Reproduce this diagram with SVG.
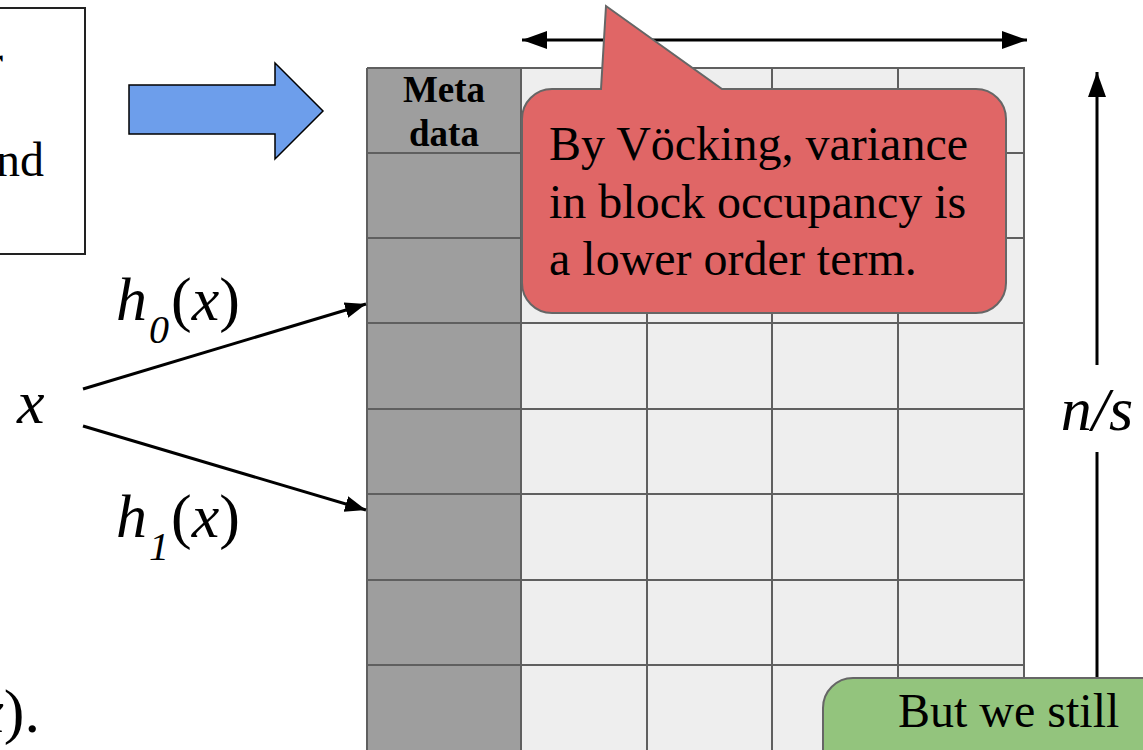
<svg xmlns="http://www.w3.org/2000/svg" width="1143" height="750" viewBox="0 0 1143 750">
  <style>
    .serif { font-family: "Liberation Serif", "Times New Roman", serif; fill: #000; }
    .body { font-size: 48px; }
    .math { font-size: 62px; font-style: italic; }
    .sub { font-size: 40px; font-style: italic; }
    .meta { font-size: 37px; font-weight: bold; }
    .cell { fill: #eeeeee; }
    .gridline { stroke: #5f5f5f; stroke-width: 2; fill: none; }
    .conn { stroke: #000; stroke-width: 3; fill: none; }
  </style>
  <defs>
    <marker id="head" markerUnits="userSpaceOnUse" markerWidth="26" markerHeight="20" refX="25" refY="9" orient="auto-start-reverse">
      <path d="M0,0 L25,9 L0,18 z" fill="#000"/>
    </marker>
    <marker id="headSmall" markerUnits="userSpaceOnUse" markerWidth="22" markerHeight="18" refX="21" refY="8" orient="auto">
      <path d="M0,0 L21,8 L0,16 z" fill="#000"/>
    </marker>
  </defs>

  <rect width="1143" height="750" fill="#fff"/>

  <!-- text box on the left, mostly off the edge -->
  <g id="text-box">
    <rect x="-5" y="8" width="90" height="246" fill="#fff" stroke="#222" stroke-width="2"/>
    <text class="serif body" x="3" y="78" text-anchor="end">r</text>
    <text class="serif body" x="44" y="176" text-anchor="end">nd</text>
  </g>

  <!-- block arrow -->
  <g id="block-arrow">
    <path d="M129,85 H275 V63 L323,111 L275,159 V134 H129 Z" fill="#6d9eeb" stroke="#000" stroke-width="1.5" stroke-linejoin="miter"/>
  </g>

  <!-- bottom-left formula fragment -->
  <g id="formula-tail">
    <text class="serif" x="40" y="732" text-anchor="end" font-size="62"><tspan font-style="italic">x</tspan>).</text>
  </g>

  <!-- key x -->
  <g id="key-x">
    <text class="serif math" x="17" y="423">x</text>
  </g>

  <!-- hash labels -->
  <g id="label-h0">
    <text class="serif math" x="116" y="320">h<tspan class="sub" dx="2" dy="23">0</tspan><tspan dx="2" dy="-23" font-style="normal">(</tspan>x<tspan font-style="normal">)</tspan></text>
  </g>
  <g id="label-h1">
    <text class="serif math" x="116" y="537">h<tspan class="sub" dx="2" dy="23">1</tspan><tspan dx="2" dy="-23" font-style="normal">(</tspan>x<tspan font-style="normal">)</tspan></text>
  </g>

  <!-- table of blocks -->
  <g id="block-table">
    <rect x="367" y="68" width="154" height="690" fill="#9e9e9e"/>
    <rect class="cell" x="521" y="68" width="503" height="690"/>
    <path class="gridline" d="M367,68 H1024 V758 M367,68 V758 M521,68 V758 M647,68 V758 M772,68 V758 M898,68 V758
      M367,153 H1024 M367,238 H1024 M367,323 H1024 M367,409 H1024 M367,494 H1024 M367,580 H1024 M367,665 H1024"/>
    <text class="serif meta" x="444" y="102" text-anchor="middle">Meta</text>
    <text class="serif meta" x="444" y="146" text-anchor="middle">data</text>
  </g>

  <!-- connectors -->
  <g id="connectors">
    <line class="conn" x1="83" y1="389" x2="366" y2="304" marker-end="url(#headSmall)"/>
    <line class="conn" x1="83" y1="426" x2="366" y2="510" marker-end="url(#headSmall)"/>
    <line class="conn" x1="522" y1="40" x2="1027" y2="40" marker-start="url(#head)" marker-end="url(#head)"/>
    <line class="conn" x1="1097" y1="365" x2="1097" y2="72" marker-end="url(#head)"/>
    <line class="conn" x1="1097" y1="452" x2="1097" y2="690"/>
  </g>

  <!-- size label -->
  <g id="label-ns">
    <text class="serif math" x="1097" y="430" text-anchor="middle">n/s</text>
  </g>

  <!-- speech callout, red -->
  <g id="callout-variance">
    <path d="M552,89 H601 L606,6 L722,89 H976 A30,30 0 0 1 1006,119 V283 A30,30 0 0 1 976,313 H552 A30,30 0 0 1 522,283 V119 A30,30 0 0 1 552,89 Z" fill="#e06666" stroke="#666" stroke-width="2"/>
    <text class="serif body" x="549" y="160">By Vöcking, variance</text>
    <text class="serif body" x="549" y="218">in block occupancy is</text>
    <text class="serif body" x="549" y="275">a lower order term.</text>
  </g>

  <!-- callout, green -->
  <g id="callout-still">
    <rect x="823" y="678" width="400" height="150" rx="30" ry="30" fill="#93c47d" stroke="#666" stroke-width="2"/>
    <text class="serif body" x="898" y="727">But we still</text>
  </g>
</svg>
